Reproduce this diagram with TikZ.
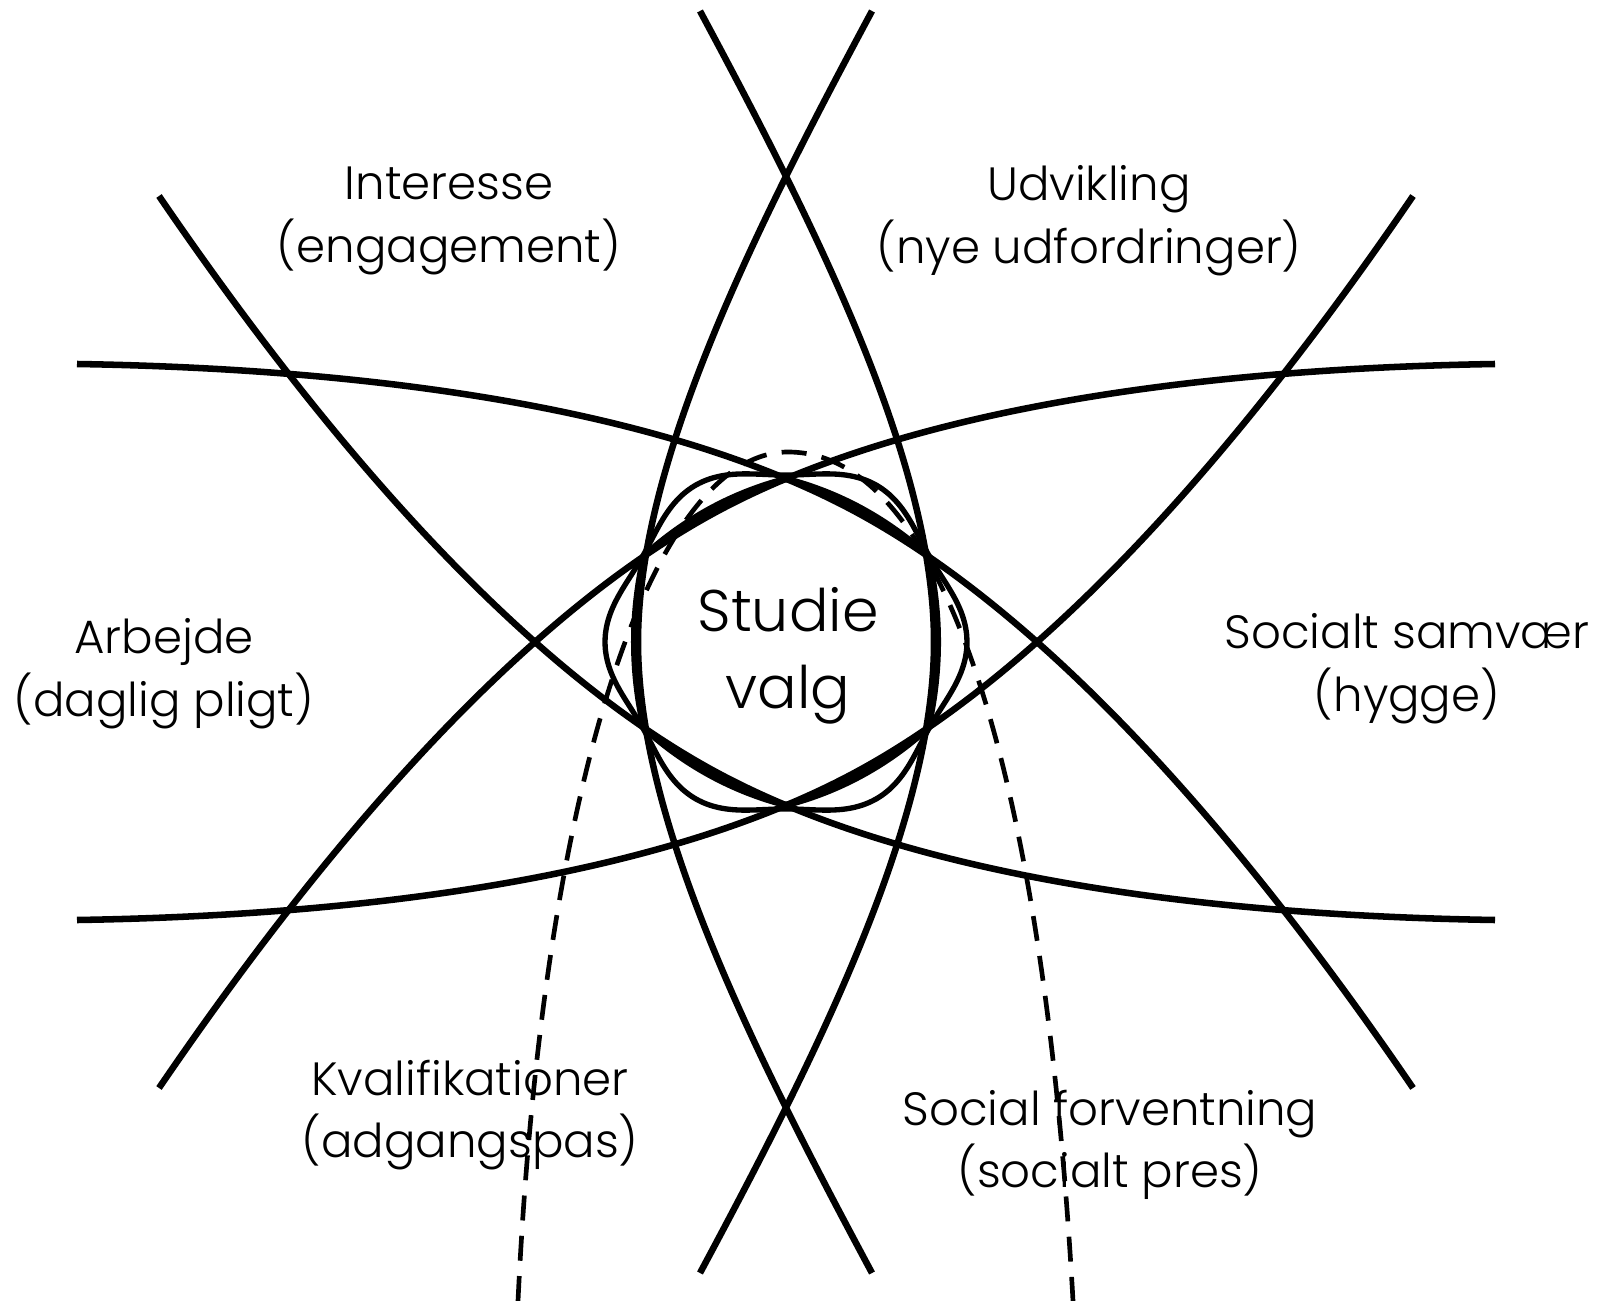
\documentclass[tikz,border=0pt]{standalone}
\usepackage{fontspec}
\IfFontExistsTF{Poppins Light}{\setmainfont{Poppins Light}}{\setmainfont{Poppins}}

\tikzset{every picture/.style={line width=4.9pt}}
\tikzset{
  lens/.style={line width=4.9pt, line cap=butt},
  ring/.style={line width=4pt},
  dashline/.style={line width=3.5pt, dash pattern=on 18.75pt off 11.5pt},
  lbl/.style={align=center, inner sep=0.75pt, font=\fontsize{35}{47}\selectfont},
  core/.style={align=center, inner sep=0.75pt, font=\fontsize{44}{58}\selectfont}
}

\begin{document}
\begin{tikzpicture}[x=0.75pt,y=0.75pt,yscale=-1,xscale=1]
\useasboundingbox (0,0) rectangle (1601,1301);

%Curve Lines (vertical lens, right side)
\draw [lens] (700,11) .. controls (818,231) and (934,462) .. (934,642) .. controls (934,822) and (818,1053) .. (700,1273) ;
%Curve Lines (vertical lens, left side)
\draw [lens] (872,11) .. controls (754,231) and (638,462) .. (638,642) .. controls (638,822) and (754,1053) .. (872,1273) ;
%Curve Lines (falling lens, upper side)
\draw [lens] (77,364) .. controls (327,368) and (645,398) .. (856,512) .. controls (1067,626) and (1267,874) .. (1413,1088) ;
%Curve Lines (falling lens, lower side)
\draw [lens] (1495,920) .. controls (1245,916) and (927,886) .. (716,772) .. controls (505,658) and (305,410) .. (159,196) ;
%Curve Lines (rising lens, lower side)
\draw [lens] (77,920) .. controls (327,916) and (645,886) .. (856,772) .. controls (1067,658) and (1267,410) .. (1413,196) ;
%Curve Lines (rising lens, upper side)
\draw [lens] (1495,364) .. controls (1245,368) and (927,398) .. (716,512) .. controls (505,626) and (305,874) .. (159,1088) ;

%Shape: rounded hexagon round the centre
\draw [lens] (786,479) .. controls (840,493) and (887,519) .. (928,556)
  .. controls (941,613) and (941,671) .. (928,728)
  .. controls (887,765) and (840,791) .. (786,805)
  .. controls (732,791) and (685,765) .. (644,728)
  .. controls (631,671) and (631,613) .. (644,556)
  .. controls (685,519) and (732,493) .. (786,479) -- cycle ;

%Shape: scalloped ring
\draw [ring] plot [domain=0:360, samples=145, smooth cycle]
  ({786+(174+7*cos(6*\x))*cos(\x)},{642-(174+7*cos(6*\x))*sin(\x)}) ;

% Text Node
\node [core] (studie) at (788,656) {Studie\\valg};
% Text Node
\node [lbl] (interesse) at (449,221) {Interesse\\(engagement)};
% Text Node
\node [lbl] (udvikling) at (1089,221) {Udvikling\\(nye udfordringer)};
% Text Node
\node [lbl] (arbejde) at (164,674) {Arbejde\\(daglig pligt)};
% Text Node
\node [lbl] (samvaer) at (1407,669) {Socialt samvær\\(hygge)};
% Text Node
\node [lbl] (kvalifikation) at (470,1115) {Kvalifikationer\\(adgangspas)};
% Text Node
\node [lbl] (forventning) at (1110,1145) {Social forventning\\(socialt pres)};

%Curve Lines (dashed arch)
\draw [dashline] (518,1301) .. controls (544,760) and (658,452) .. (788,452) .. controls (938,452) and (1042,751) .. (1073,1301) ;

\end{tikzpicture}
\end{document}
